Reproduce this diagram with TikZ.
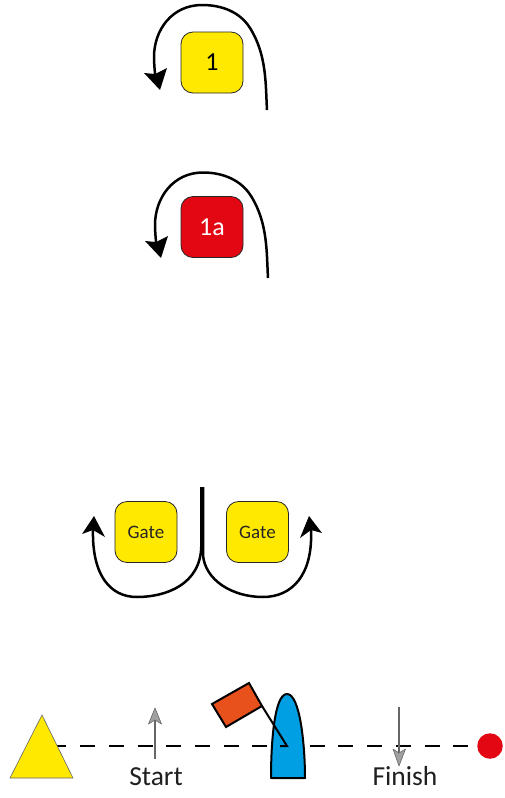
\documentclass[tikz,border=0pt]{standalone}
\usepackage{fontspec}
\setmainfont{Carlito}
\definecolor{ryellow}{HTML}{FFE900}
\definecolor{rred}{HTML}{E30613}
\definecolor{rblue}{HTML}{009FE3}
\definecolor{rorange}{HTML}{E8511B}
\definecolor{rgraytip}{HTML}{A0A0A0}
\tikzset{
  markbox/.style={draw=black!85,line width=0.8pt,rounded corners=12pt,minimum width=62pt,minimum height=61pt,inner sep=0pt,outer sep=0pt},
  course/.style={draw=black,line width=2.5pt},
  coursehead/.style={fill=black,draw=none},
  thinline/.style={draw=black!60,line width=1.1pt},
  thinhead/.style={fill=rgraytip,draw=black!60,line width=0.6pt,line join=round},
  caption/.style={anchor=base,inner sep=0pt,text=black!88,font=\fontsize{27.5}{28}\selectfont},
}
\begin{document}
\begin{tikzpicture}[x=1pt,y=-1pt]
\useasboundingbox (0,0) rectangle (505,798);
% mark 1
\node[markbox,fill=ryellow,font=\fontsize{26}{26}\selectfont] (m1) at (212,62.5) {1};
\coordinate (s1) at (267,110);
\coordinate (e1) at (155,74);
\draw[course] (s1) .. controls (265.5,85) and (267,55) .. (250,28) .. controls (240,12) and (222,5) .. (202,5) .. controls (172,5) and (154,30) .. (154,57) .. controls (154,62) and (154.5,68) .. (e1);
\fill[coursehead] (160,90) -- (144,73) -- (e1) -- (167,68) -- cycle;
% mark 1a
\node[markbox,fill=rred,text=white,font=\fontsize{26}{26}\selectfont] (m1a) at (212,227) {1a};
\coordinate (s2) at (268,278);
\coordinate (e2) at (156,242);
\draw[course] (s2) .. controls (266.5,253) and (268,223) .. (251,196) .. controls (241,180) and (223,172.5) .. (203,172.5) .. controls (173,172.5) and (155,198) .. (155,225) .. controls (155,230) and (155.5,236) .. (e2);
\fill[coursehead] (161,258) -- (145,241) -- (e2) -- (168,236) -- cycle;
% gate
\node[markbox,fill=ryellow,text=black!85,font=\fontsize{19}{20}\selectfont] (g1) at (146,532) {Gate};
\node[markbox,fill=ryellow,text=black!85,font=\fontsize{19}{20}\selectfont] (g2) at (257.5,532) {Gate};
\coordinate (gs1) at (201.3,487);
\coordinate (gs2) at (203,487);
\coordinate (ge1) at (93,530);
\coordinate (ge2) at (311,530);
\draw[course] (gs1) -- (201.3,545) .. controls (201.3,585) and (165,597) .. (137,597) .. controls (110,597) and (92,575) .. (ge1);
\fill[coursehead] (94,516) -- (82,534) -- (ge1) -- (105,537) -- cycle;
\draw[course] (gs2) -- (203,555) .. controls (205,580) and (232,597) .. (263,597) .. controls (292,597) and (313,575) .. (ge2);
\fill[coursehead] (309,516) -- (300,538) -- (ge2) -- (322,533) -- cycle;
% start / finish line
\coordinate (l1) at (51.4,746);
\coordinate (l2) at (480,746);
\draw[line width=2pt,dash pattern=on 15pt off 13.7pt] (l1) -- (l2);
\fill[ryellow,draw=black!60,line width=0.6pt] (42,715) -- (10,778) -- (73,778) -- cycle;
\node[circle,fill=rred,minimum size=25.5pt,inner sep=0pt,outer sep=0pt] (fin) at (490,746) {};
% boat
\filldraw[fill=rblue,draw=black,line width=2pt,line join=round] (271,778) .. controls (271,745) and (274,694) .. (287,694) .. controls (300,694) and (305,745) .. (305,778) -- cycle;
\coordinate (pole) at (287,746);
\coordinate (dash) at (280,746);
\coordinate (flagc) at (262,706);
\filldraw[fill=rorange,draw=black,line width=2pt,line join=miter] (212,704) -- (249,683) -- (flagc) -- (226,727) -- cycle;
\draw[black,line width=2pt] (flagc) -- (pole) -- (dash);
% start and finish arrows
\coordinate (a1) at (155,759);
\coordinate (a2) at (155,720);
\coordinate (b1) at (399,707);
\coordinate (b2) at (399,753);
\draw[thinline] (a1) -- (a2);
\filldraw[thinhead] (155,708) -- (148.5,724) -- (a2) -- (161.5,724) -- cycle;
\draw[thinline] (b1) -- (b2);
\filldraw[thinhead] (399,766) -- (393,749) -- (b2) -- (405.5,749) -- cycle;
\node[caption] (start) at (156,785) {Start};
\node[caption] (finish) at (405,785) {Finish};
\end{tikzpicture}
\end{document}
